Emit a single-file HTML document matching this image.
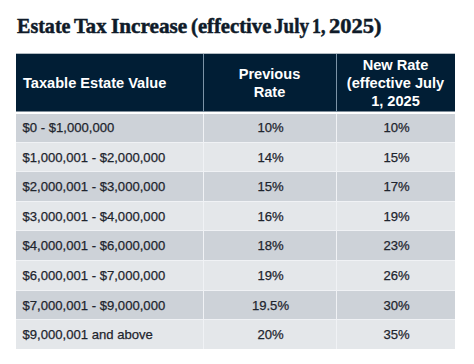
<!DOCTYPE html>
<html><head><meta charset="utf-8">
<style>
html,body{margin:0;padding:0;background:#fff;width:474px;height:364px;overflow:hidden;position:relative}
div{position:absolute}
.t{top:11px;font-family:"Liberation Serif",serif;font-weight:bold;font-size:21px;line-height:30px;color:#0f1b29;white-space:nowrap;transform-origin:0 0;-webkit-text-stroke:0.5px #0f1b29}
.h{font-family:"Liberation Sans",sans-serif;font-weight:bold;font-size:14.6px;color:#fff;line-height:17.8px;text-align:center;white-space:nowrap}
.c{font-family:"Liberation Sans",sans-serif;font-size:13.1px;color:#1e252e;line-height:29px;white-space:nowrap;-webkit-text-stroke:0.25px #1e252e}
.c1{left:22.5px}
.c2{left:204px;width:133px;text-align:center}
.c3{left:337px;width:119px;text-align:center}
</style></head><body>

<div class="t" style="left:17px;transform:scaleX(0.955)">Estate</div>
<div class="t" style="left:74.2px;transform:scaleX(0.98)">Tax</div>
<div class="t" style="left:110.9px;transform:scaleX(1.01)">Increase</div>
<div class="t" style="left:190.8px;transform:scaleX(0.985)">(effective</div>
<div class="t" style="left:274px;transform:scaleX(0.91)">July</div>
<div class="t" style="left:311.7px;transform:scaleX(0.85)">1,</div>
<div class="t" style="left:328.8px;transform:scaleX(1.07)">2025)</div>
<div style="left:16px;top:53px;width:439px;height:1px;background:#011e35;opacity:0.3"></div>
<div style="left:16px;top:54px;width:439px;height:57px;background:#011e35"></div>
<div style="left:16px;top:111px;width:439px;height:1px;background:#011e35;opacity:0.5"></div>
<div style="left:203px;top:54px;width:1px;height:58px;background:#7b93a6"></div>
<div style="left:336px;top:54px;width:1px;height:58px;background:#7b93a6"></div>
<div class="h" style="left:23px;top:75px;text-align:left">Taxable Estate Value</div>
<div class="h" style="left:203px;width:133px;top:66px">Previous<br>Rate</div>
<div class="h" style="left:336px;width:119px;top:57px">New Rate<br>(effective July<br>1, 2025</div>
<div style="left:16px;top:114px;width:439px;height:28px;background:#cdd2d8"></div>
<div style="left:16px;top:143px;width:439px;height:28px;background:#e4e7ea"></div>
<div style="left:16px;top:172px;width:439px;height:29px;background:#cdd2d8"></div>
<div style="left:16px;top:202px;width:439px;height:28px;background:#e4e7ea"></div>
<div style="left:16px;top:231px;width:439px;height:29px;background:#cdd2d8"></div>
<div style="left:16px;top:261px;width:439px;height:29px;background:#e4e7ea"></div>
<div style="left:16px;top:291px;width:439px;height:28px;background:#cdd2d8"></div>
<div style="left:16px;top:320px;width:439px;height:29px;background:#e4e7ea"></div>
<div style="left:16px;top:142px;width:439px;height:1px;background:#f0f2f5"></div>
<div style="left:16px;top:171px;width:439px;height:1px;background:#f0f2f5"></div>
<div style="left:16px;top:201px;width:439px;height:1px;background:#f0f2f5"></div>
<div style="left:16px;top:230px;width:439px;height:1px;background:#f0f2f5"></div>
<div style="left:16px;top:260px;width:439px;height:1px;background:#f0f2f5"></div>
<div style="left:16px;top:290px;width:439px;height:1px;background:#f0f2f5"></div>
<div style="left:16px;top:319px;width:439px;height:1px;background:#f0f2f5"></div>
<div style="left:203px;top:114px;width:1px;height:235px;background:#f0f2f5"></div>
<div style="left:336px;top:114px;width:1px;height:235px;background:#f0f2f5"></div>
<div class="c c1" style="top:113.0px">$0 - $1,000,000</div><div class="c c2" style="top:113.0px">10%</div><div class="c c3" style="top:113.0px">10%</div>
<div class="c c1" style="top:142.6px">$1,000,001 - $2,000,000</div><div class="c c2" style="top:142.6px">14%</div><div class="c c3" style="top:142.6px">15%</div>
<div class="c c1" style="top:172.2px">$2,000,001 - $3,000,000</div><div class="c c2" style="top:172.2px">15%</div><div class="c c3" style="top:172.2px">17%</div>
<div class="c c1" style="top:201.8px">$3,000,001 - $4,000,000</div><div class="c c2" style="top:201.8px">16%</div><div class="c c3" style="top:201.8px">19%</div>
<div class="c c1" style="top:231.4px">$4,000,001 - $6,000,000</div><div class="c c2" style="top:231.4px">18%</div><div class="c c3" style="top:231.4px">23%</div>
<div class="c c1" style="top:261.0px">$6,000,001 - $7,000,000</div><div class="c c2" style="top:261.0px">19%</div><div class="c c3" style="top:261.0px">26%</div>
<div class="c c1" style="top:290.6px">$7,000,001 - $9,000,000</div><div class="c c2" style="top:290.6px">19.5%</div><div class="c c3" style="top:290.6px">30%</div>
<div class="c c1" style="top:320.2px">$9,000,001 and above</div><div class="c c2" style="top:320.2px">20%</div><div class="c c3" style="top:320.2px">35%</div>
</body></html>
